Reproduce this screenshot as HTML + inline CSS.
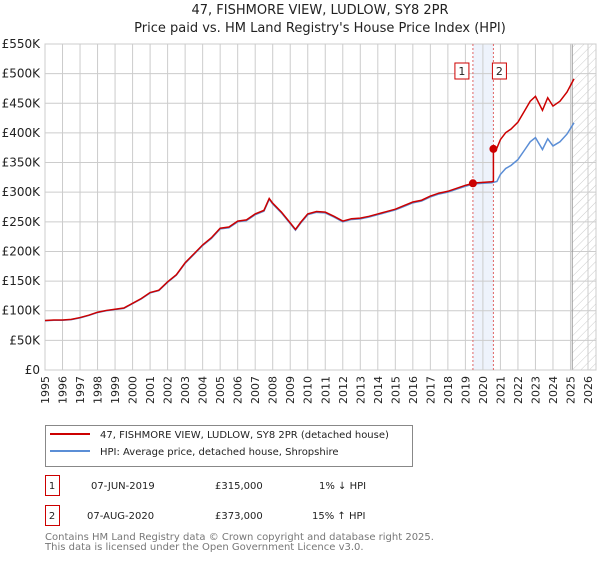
<!DOCTYPE html>
<html><head><meta charset="utf-8"><style>
body{margin:0;background:#fff;font-family:"DejaVu Sans","Liberation Sans",sans-serif;}
svg text{font-family:"DejaVu Sans","Liberation Sans",sans-serif;}
</style></head><body>
<svg id="c" width="600" height="560" xmlns="http://www.w3.org/2000/svg">
<text x="320" y="14" text-anchor="middle" font-size="13" fill="#222">47, FISHMORE VIEW, LUDLOW, SY8 2PR</text>
<text x="320" y="32" text-anchor="middle" font-size="13" fill="#222">Price paid vs. HM Land Registry's House Price Index (HPI)</text>
<g id="plot"></g>
<g>
<rect x="45.5" y="425.5" width="367" height="41" fill="#fff" stroke="#888"/>
<line x1="50" y1="434" x2="90" y2="434" stroke="#cc0000" stroke-width="2"/>
<text x="100" y="438" font-size="10" fill="#222">47, FISHMORE VIEW, LUDLOW, SY8 2PR (detached house)</text>
<line x1="50" y1="451" x2="90" y2="451" stroke="#5b8ed6" stroke-width="2"/>
<text x="100" y="455" font-size="10" fill="#222">HPI: Average price, detached house, Shropshire</text>
</g>
<g font-size="10" fill="#222">
<rect x="45.5" y="475.5" width="14" height="20" fill="#fff" stroke="#cc0000"/><text x="52" y="489" text-anchor="middle">1</text>
<text x="91" y="489">07-JUN-2019</text><text x="215" y="489">£315,000</text><text x="319" y="489">1% ↓ HPI</text>
<rect x="45.5" y="505.5" width="14" height="20" fill="#fff" stroke="#cc0000"/><text x="52" y="519" text-anchor="middle">2</text>
<text x="87" y="519">07-AUG-2020</text><text x="215" y="519">£373,000</text><text x="312" y="519">15% ↑ HPI</text>
</g>
<text x="45" y="540" font-size="10" fill="#777">Contains HM Land Registry data © Crown copyright and database right 2025.</text>
<text x="45" y="550" font-size="10" fill="#777">This data is licensed under the Open Government Licence v3.0.</text>
</svg>
<script>
const hpiYears=[1995,1995.5,1996,1996.5,1997,1997.5,1998,1998.5,1999,1999.5,2000,2000.5,2001,2001.5,2002,2002.5,2003,2003.5,2004,2004.5,2005,2005.5,2006,2006.5,2007,2007.5,2007.8,2008,2008.5,2009,2009.3,2009.6,2010,2010.5,2011,2011.5,2012,2012.5,2013,2013.5,2014,2014.5,2015,2015.5,2016,2016.5,2017,2017.5,2018,2018.5,2019,2019.5,2020,2020.5,2020.8,2021,2021.3,2021.6,2022,2022.4,2022.7,2023,2023.4,2023.7,2024,2024.4,2024.8,2025.2];
const hpiValues=[83,84,84,85,88,92,97,100,102,104,112,120,130,134,148,160,180,195,210,222,238,240,250,252,262,268,288,280,265,247,236,248,262,266,265,258,250,254,255,258,262,266,270,276,282,285,292,297,300,305,310,314,315,316,318,330,340,345,355,372,385,392,372,390,378,385,398,417];
const saleYears=[2019.43,2020.6];
const salePrices=[315,373];
const saleLabels=["1","2"];
const yTicks=[0,50,100,150,200,250,300,350,400,450,500,550];
const xTicks=[1995,1996,1997,1998,1999,2000,2001,2002,2003,2004,2005,2006,2007,2008,2009,2010,2011,2012,2013,2014,2015,2016,2017,2018,2019,2020,2021,2022,2023,2024,2025,2026];
const X0=45,X1=588,Y0=370,Y1=44;
const xs=t=>X0+(t-1995)/31*(X1-X0);
const ys=v=>Y0-v/550*(Y0-Y1);
const NS="http://www.w3.org/2000/svg";
const g=document.getElementById('plot');
function mk(tag,attrs,parent){const e=document.createElementNS(NS,tag);for(const k in attrs)e.setAttribute(k,attrs[k]);(parent||g).appendChild(e);return e;}
let r=mk('rect',{x:xs(saleYears[0]),y:Y1,width:xs(saleYears[1])-xs(saleYears[0]),height:Y0-Y1,fill:'#eef3fc'});


yTicks.forEach(v=>{const l=mk('line',{x1:X0,x2:596,y1:ys(v),y2:ys(v),stroke:'#ccc'});


const t=mk('text',{x:40,y:ys(v)+4,'text-anchor':'end','font-size':12,fill:'#222'});t.textContent=v===0?'£0':'£'+v+'K';

});
xTicks.forEach(y=>{const l=mk('line',{x1:xs(y),x2:xs(y),y1:Y1,y2:Y0,stroke:'#ccc'});


const tx=xs(y)+4,ty=376;
const t=mk('text',{x:tx,y:ty,'text-anchor':'end','font-size':11,fill:'#222',transform:'rotate(-90 '+tx+' '+ty+')'});t.textContent=y;

});
const defs=mk('defs',{});const p=mk('pattern',{id:'h',width:6,height:6,patternUnits:'userSpaceOnUse',patternTransform:'rotate(45)'},defs);
mk('line',{x1:0,y1:0,x2:0,y2:6,stroke:'#ccc'},p);
const hs=mk('rect',{x:xs(2025.1),y:Y1,width:596-xs(2025.1),height:Y0-Y1,fill:'url(#h)'});


mk('line',{x1:xs(2025.1),x2:xs(2025.1),y1:Y1,y2:Y0,stroke:'#999'});
mk('rect',{x:X0,y:Y1,width:596-X0,height:Y0-Y1,fill:'none',stroke:'#ccc'});
saleYears.forEach((s,i)=>{const l=mk('line',{x1:xs(s),x2:xs(s),y1:Y1,y2:Y0,stroke:'#e06666','stroke-dasharray':'2,2'});


const bx=xs(s)+(i===0?-11:6);
const b=mk('rect',{x:bx-7,y:63,width:14,height:16,fill:'#fff',stroke:'#cc0000'});


const t=mk('text',{x:bx,y:75,'text-anchor':'middle','font-size':11,fill:'#222'});t.textContent=saleLabels[i];});
function hpiAt(t){for(let i=1;i<hpiYears.length;i++){if(t<=hpiYears[i]){const f=(t-hpiYears[i-1])/(hpiYears[i]-hpiYears[i-1]);return hpiValues[i-1]+f*(hpiValues[i]-hpiValues[i-1]);}}return hpiValues[hpiValues.length-1];}
const bp=hpiYears.map((t,i)=>xs(t)+','+ys(hpiValues[i])).join(' ');
const k1=salePrices[0]/hpiAt(saleYears[0]),k2=salePrices[1]/hpiAt(saleYears[1]);
const red=[];
hpiYears.forEach((t,i)=>{if(t<saleYears[0])red.push([t,hpiValues[i]*k1]);});
red.push([saleYears[0],salePrices[0]]);
hpiYears.forEach((t,i)=>{if(t>saleYears[0]&&t<saleYears[1])red.push([t,hpiValues[i]*k1]);});
red.push([saleYears[1],hpiAt(saleYears[1])*k1]);
red.push([saleYears[1],salePrices[1]]);
hpiYears.forEach((t,i)=>{if(t>saleYears[1])red.push([t,hpiValues[i]*k2]);});
const bl=mk('polyline',{points:bp,fill:'none',stroke:'#5b8ed6','stroke-width':1.5});


const rl=mk('polyline',{points:red.map(d=>xs(d[0])+','+ys(d[1])).join(' '),fill:'none',stroke:'#cc0000','stroke-width':1.5});


saleYears.forEach((s,i)=>{const c=mk('circle',{cx:xs(s),cy:ys(salePrices[i]),r:4,fill:'#cc0000'});

});
</script>
</body></html>
